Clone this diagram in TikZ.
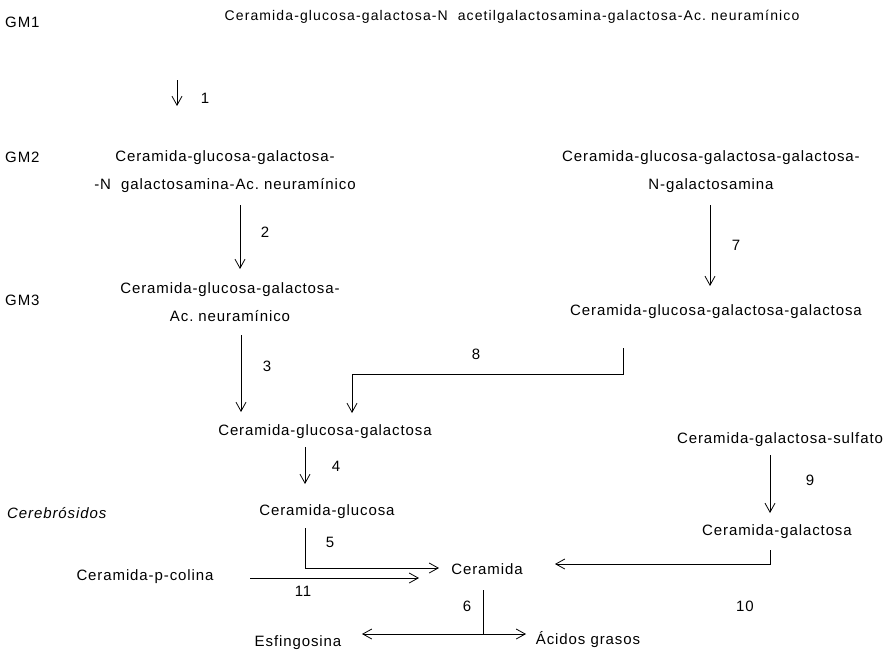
\documentclass[tikz,border=0pt]{standalone}
\usepackage{fontspec}
\setmainfont{Liberation Sans}[LetterSpace=6]
\newfontfamily\ancha{Liberation Sans}[LetterSpace=8]
\usetikzlibrary{arrows.meta,positioning}

\tikzset{
  texto/.style={font=\fontsize{15}{28}\selectfont, inner sep=1pt, align=center},
  num/.style={font=\fontsize{15}{18}\selectfont, inner sep=1pt},
  flecha/.style={-{Straight Barb[length=9pt,width=10pt]}, line width=0.8pt},
  linea/.style={line width=0.8pt}
}

\begin{document}
\begin{tikzpicture}[x=1pt,y=-1pt]
  \useasboundingbox (0,0) rectangle (892,653);

  % etiquetas de la izquierda
  \node[texto, anchor=west] (gmuno) at (4,22) {GM1};
  \node[texto, anchor=west] (gmdos) at (4,157) {GM2};
  \node[texto, anchor=west] (gmtres) at (4,300) {GM3};
  \node[texto, anchor=west, font=\fontsize{15}{18}\selectfont\itshape] (cerebro) at (6,513) {Cerebrósidos};

  % compuestos
  \node[texto, font=\fontsize{14}{18}\selectfont\ancha] (cgm1) at (512,17) {Ceramida-glucosa-galactosa-N\ \ acetilgalactosamina-galactosa-Ac.\ neuramínico};
  \node[texto] (cgm2) at (225,172) {Ceramida-glucosa-galactosa-\\-N\ \ galactosamina-Ac.\ neuramínico};
  \node[texto] (cgm3) at (230,302) {Ceramida-glucosa-galactosa-\\Ac.\ neuramínico};
  \node[texto] (cggn) at (711,172) {Ceramida-glucosa-galactosa-galactosa-\\N-galactosamina};
  \node[texto] (cggg) at (716,312) {Ceramida-glucosa-galactosa-galactosa};
  \node[texto] (cgg) at (325,432) {Ceramida-glucosa-galactosa};
  \node[texto] (cgs) at (780,440) {Ceramida-galactosa-sulfato};
  \node[texto] (cglu) at (327,512) {Ceramida-glucosa};
  \node[texto] (cgal) at (777,532) {Ceramida-galactosa};
  \node[texto] (cer) at (487,569) {Ceramida};
  \node[texto] (cpc) at (145,577) {Ceramida-p-colina};
  \node[texto] (esf) at (298,643) {Esfingosina};
  \node[texto] (acid) at (588,640) {\'{A}cidos\ grasos};

  % puntos de las flechas
  \coordinate (a1) at (177,80);  \coordinate (b1) at (177,106);
  \coordinate (a2) at (240,205); \coordinate (b2) at (240,269);
  \coordinate (a3) at (241,335); \coordinate (b3) at (241,412);
  \coordinate (a7) at (710,205); \coordinate (b7) at (710,286);
  \coordinate (a8) at (623,348); \coordinate (b8) at (352,413);
  \coordinate (a4) at (305,447); \coordinate (b4) at (305,484);
  \coordinate (a9) at (770,455); \coordinate (b9) at (770,513);
  \coordinate (a5) at (305,528); \coordinate (b5) at (439,568);
  \coordinate (a10) at (770,550); \coordinate (b10) at (555,564);
  \coordinate (a11) at (250,578); \coordinate (b11) at (419,578);
  \coordinate (a6) at (483,590); \coordinate (m6) at (483,634);
  \coordinate (b6) at (362,634); \coordinate (c6) at (526,634);

  % flechas
  \draw[flecha] (a1) -- (b1);
  \draw[flecha] (a2) -- (b2);
  \draw[flecha] (a3) -- (b3);
  \draw[flecha] (a7) -- (b7);
  \draw[flecha] (a8) -- (a8 |- 0,374) -| (b8);
  \draw[flecha] (a4) -- (b4);
  \draw[flecha] (a9) -- (b9);
  \draw[flecha] (a5) |- (b5);
  \draw[flecha] (a10) |- (b10);
  \draw[flecha] (a11) -- (b11);
  \draw[linea] (a6) -- (m6);
  \draw[flecha] (m6) -- (b6);
  \draw[flecha] (m6) -- (c6);

  % numeros
  \node[num] (n1) at (205,98) {1};
  \node[num] (n2) at (265,232) {2};
  \node[num] (n3) at (267,366) {3};
  \node[num] (n7) at (736,245) {7};
  \node[num] (n8) at (476,354) {8};
  \node[num] (n4) at (336,466) {4};
  \node[num] (n9) at (810,480) {9};
  \node[num] (n5) at (330,542) {5};
  \node[num] (n10) at (745,606) {10};
  \node[num] (n11) at (303,591) {11};
  \node[num] (n6) at (467,606) {6};
\end{tikzpicture}
\end{document}
